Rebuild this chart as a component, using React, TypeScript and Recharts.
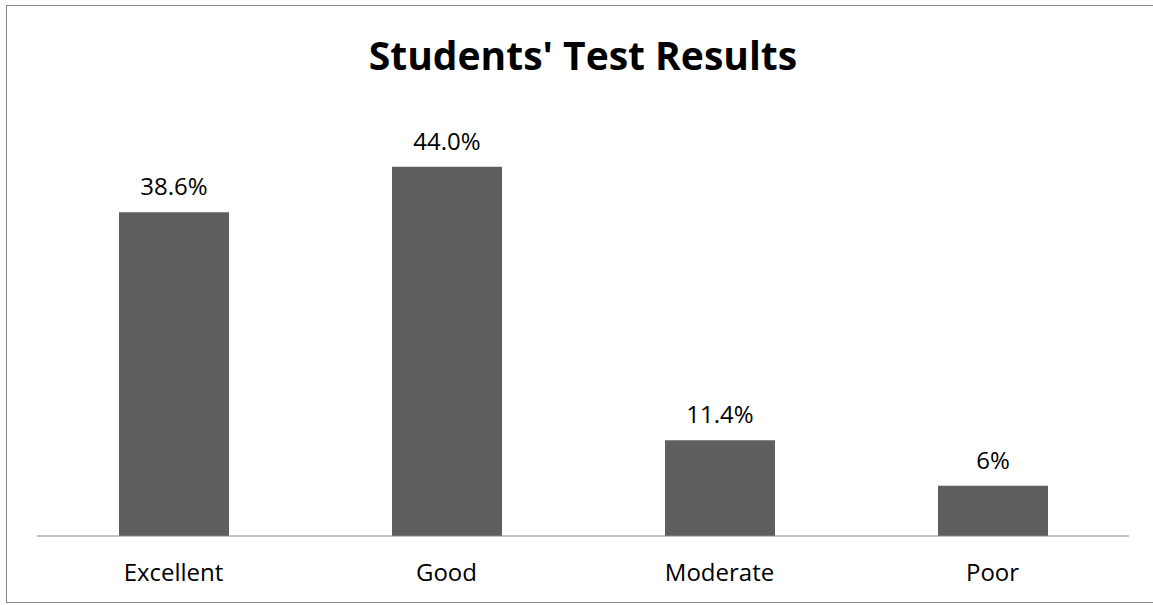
import { BarChart, Bar, XAxis, YAxis, LabelList } from "recharts";

const categories = ["Excellent", "Good", "Moderate", "Poor"];
const values = [38.6, 44.0, 11.4, 6];
const valueLabels = ["38.6%", "44.0%", "11.4%", "6%"];
const yDomain: [number, number] = [0, 50];

const data = categories.map((name, i) => ({
  name,
  value: values[i],
  label: valueLabels[i],
}));

const font = "'Open Sans', sans-serif";

export default function App() {
  return (
    <div
      style={{
        position: "absolute",
        left: 0,
        top: 0,
        width: 1153,
        height: 605,
        overflow: "hidden",
        background: "white",
        fontFamily: font,
      }}
    >
      {/* outer frame, right edge falls outside the picture */}
      <div
        style={{
          position: "absolute",
          left: 6,
          top: 5,
          width: 1200,
          height: 596,
          border: "1px solid #878787",
        }}
      />
      <div
        style={{
          position: "absolute",
          left: 0,
          width: 1166,
          top: 28,
          lineHeight: "53px",
          textAlign: "center",
          fontSize: 39,
          fontWeight: 700,
          color: "#000",
        }}
      >
        Students' Test Results
      </div>
      <div style={{ position: "absolute", left: 0, top: 0 }}>
        <BarChart
          width={1153}
          height={605}
          data={data}
          margin={{ top: 116.5, right: 24, bottom: 0, left: 37 }}
          barSize={110}
        >
          <XAxis
            dataKey="name"
            height={69}
            stroke="#868686"
            tickLine={false}
            tickMargin={22}
            tick={{ fontSize: 24, fill: "#000", fontFamily: font }}
          />
          <YAxis hide domain={yDomain} />
          <Bar dataKey="value" fill="#5f5f5f" isAnimationActive={false}>
            <LabelList
              dataKey="label"
              position="top"
              offset={17}
              style={{ fontSize: 24, fill: "#000", fontFamily: font }}
            />
          </Bar>
        </BarChart>
      </div>
    </div>
  );
}
